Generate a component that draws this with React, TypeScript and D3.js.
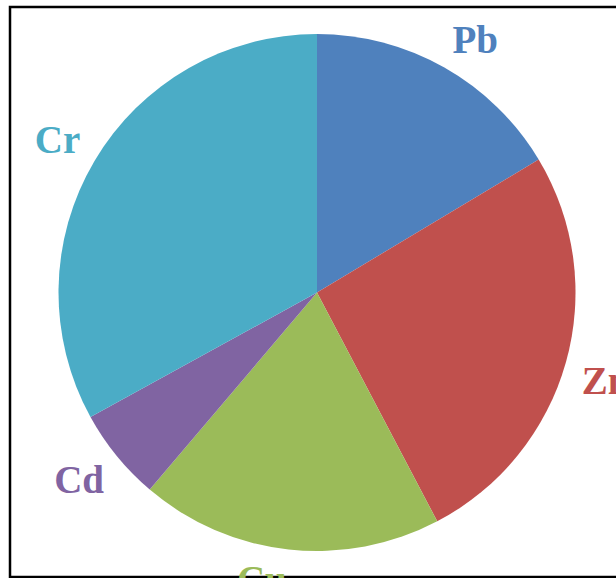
import { pie, arc, PieArcDatum } from "d3";

const metals = ["Pb", "Zn", "Cu", "Cd", "Cr"];
const shares = [16.4, 25.9, 18.9, 5.8, 33.0];
const colors = ["#4F81BD", "#C0504D", "#9BBB59", "#8064A2", "#4BACC6"];

const width = 616;
const height = 578;
const cx = 317;
const cy = 292.5;
const radius = 258.5;
const labelRadius = 275;
const fontSize = 39;
const capHeight = 27;

type Slice = { name: string; value: number; color: string };

const App = () => {
  const data: Slice[] = metals.map((name, i) => ({ name, value: shares[i], color: colors[i] }));

  const pieGen = pie<Slice>()
    .value(d => d.value)
    .sort(null);
  const arcs = pieGen(data);

  const arcGen = arc<PieArcDatum<Slice>>().innerRadius(0).outerRadius(radius);

  // outside-end labels: the label box corner nearest the pie sits on the anchor point
  const labelPos = (d: PieArcDatum<Slice>) => {
    const a = (d.startAngle + d.endAngle) / 2;
    const ax = cx + labelRadius * Math.sin(a);
    const ay = cy - labelRadius * Math.cos(a);
    const anchor = Math.sin(a) >= 0 ? "start" : "end";
    const y = Math.cos(a) > 0 ? ay : ay + capHeight;
    return { x: ax, y, anchor };
  };

  return (
    <div style={{ position: "fixed", left: 0, top: 0, width, height, background: "#fff" }}>
      <svg width={width} height={height} style={{ display: "block" }}>
        <rect x={10} y={7} width={width + 20} height={height - 8} fill="#fff" stroke="#000" strokeWidth={2.5} />
        <g transform={`translate(${cx},${cy})`}>
          {arcs.map(d => (
            <path key={d.data.name} d={arcGen(d) ?? ""} fill={d.data.color} />
          ))}
        </g>
        {arcs.map(d => {
          const p = labelPos(d);
          return (
            <text
              key={d.data.name + "-label"}
              x={p.x}
              y={p.y}
              textAnchor={p.anchor}
              fill={d.data.color}
              fontFamily="'Liberation Serif', 'Times New Roman', serif"
              fontWeight="bold"
              fontSize={fontSize}
            >
              {d.data.name}
            </text>
          );
        })}
      </svg>
    </div>
  );
};

export default App;
